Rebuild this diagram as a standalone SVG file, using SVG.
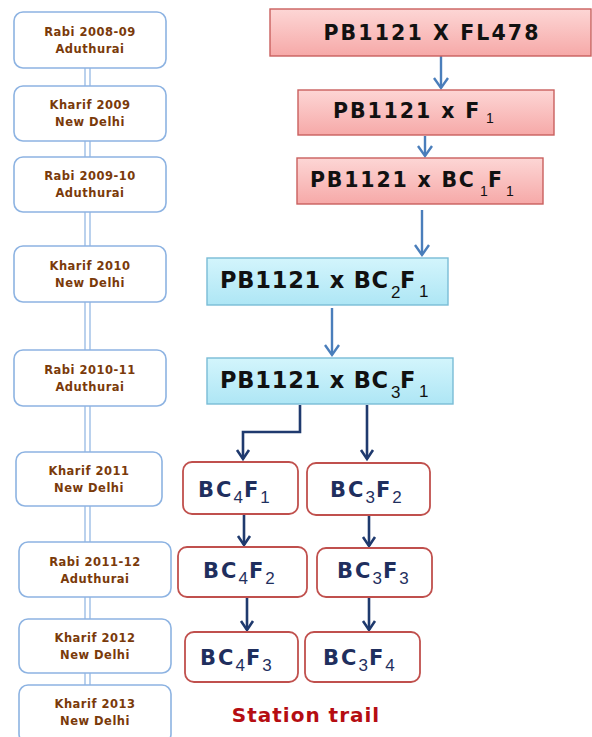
<svg xmlns="http://www.w3.org/2000/svg" width="592" height="737" viewBox="0 0 592 737">
<defs>
<linearGradient id="gRed" x1="0" y1="0" x2="0" y2="1">
<stop offset="0" stop-color="#fdd6d5"/>
<stop offset="1" stop-color="#f6a9a8"/>
</linearGradient>
<linearGradient id="gCyan" x1="0" y1="0" x2="0" y2="1">
<stop offset="0" stop-color="#d3f5fc"/>
<stop offset="1" stop-color="#aee6f5"/>
</linearGradient>
<marker id="aBlue" markerUnits="userSpaceOnUse" viewBox="-12 -10 14 20" refX="0" refY="0" markerWidth="14" markerHeight="20" orient="auto" overflow="visible">
<path d="M-10,-7 L0,0 L-10,7" fill="none" stroke="#4a7ebb" stroke-width="2.4" stroke-linejoin="miter"/>
</marker>
<marker id="aNavy" markerUnits="userSpaceOnUse" viewBox="-12 -10 14 20" refX="0" refY="0" markerWidth="14" markerHeight="20" orient="auto" overflow="visible">
<path d="M-9,-6 L0,0 L-9,6" fill="none" stroke="#1f3a6e" stroke-width="2.6" stroke-linejoin="miter"/>
</marker>
</defs>
<style>
.lbox{fill:#ffffff;stroke:#8db3e2;stroke-width:1.6}
.ltxt{font-family:"DejaVu Sans",sans-serif;font-weight:bold;font-size:11.5px;fill:#7a3a0a;text-anchor:middle;letter-spacing:0.5px}
.rbox{fill:url(#gRed);stroke:#c9605e;stroke-width:1.4}
.cbox{fill:url(#gCyan);stroke:#79bcd6;stroke-width:1.4}
.btxt{font-family:"DejaVu Sans",sans-serif;font-weight:bold;fill:#111111}
.sub{font-family:"Liberation Sans",sans-serif;font-weight:normal;fill:#111111}
.gbox{fill:#ffffff;stroke:#c0504d;stroke-width:1.8}
.gtxt{font-family:"DejaVu Sans",sans-serif;font-weight:bold;font-size:21px;fill:#1f2f5e;letter-spacing:2px}
.gsub{font-family:"Liberation Sans",sans-serif;font-weight:normal;font-size:17px;letter-spacing:1px}
.cb{fill:none;stroke:#4a7ebb;stroke-width:2.4;marker-end:url(#aBlue)}
.cn{fill:none;stroke:#1f3a6e;stroke-width:2.6;marker-end:url(#aNavy)}
</style>

<g id="connectors">
<rect x="85" y="60" width="5" height="632" fill="#ffffff" stroke="#8db3e2" stroke-width="1.2"/>
<path class="cb" d="M441,56 V88"/>
<path class="cb" d="M425,136 V156"/>
<path class="cb" d="M422,210 V255"/>
<path class="cb" d="M332,308 V355"/>
<path class="cn" d="M300,405 V432 H243 V459"/>
<path class="cn" d="M367,405 V459"/>
<path class="cn" d="M244,515 V545"/>
<path class="cn" d="M369,516 V546"/>
<path class="cn" d="M247,598 V630"/>
<path class="cn" d="M369,598 V630"/>
</g>

<g id="season1"><rect class="lbox" x="14" y="12" width="152" height="56" rx="9"/><text class="ltxt" x="90" y="36">Rabi 2008-09</text><text class="ltxt" x="90" y="53">Aduthurai</text></g>
<g id="season2"><rect class="lbox" x="14" y="86" width="152" height="55" rx="9"/><text class="ltxt" x="90" y="109">Kharif 2009</text><text class="ltxt" x="90" y="126">New Delhi</text></g>
<g id="season3"><rect class="lbox" x="14" y="157" width="152" height="55" rx="9"/><text class="ltxt" x="90" y="180">Rabi 2009-10</text><text class="ltxt" x="90" y="197">Aduthurai</text></g>
<g id="season4"><rect class="lbox" x="14" y="246" width="152" height="56" rx="9"/><text class="ltxt" x="90" y="270">Kharif 2010</text><text class="ltxt" x="90" y="287">New Delhi</text></g>
<g id="season5"><rect class="lbox" x="14" y="350" width="152" height="56" rx="9"/><text class="ltxt" x="90" y="374">Rabi 2010-11</text><text class="ltxt" x="90" y="391">Aduthurai</text></g>
<g id="season6"><rect class="lbox" x="16" y="452" width="146" height="54" rx="9"/><text class="ltxt" x="89" y="475">Kharif 2011</text><text class="ltxt" x="89" y="492">New Delhi</text></g>
<g id="season7"><rect class="lbox" x="19" y="542" width="152" height="55" rx="9"/><text class="ltxt" x="95" y="566">Rabi 2011-12</text><text class="ltxt" x="95" y="583">Aduthurai</text></g>
<g id="season8"><rect class="lbox" x="19" y="619" width="152" height="54" rx="9"/><text class="ltxt" x="95" y="642">Kharif 2012</text><text class="ltxt" x="95" y="659">New Delhi</text></g>
<g id="season9"><rect class="lbox" x="19" y="685" width="152" height="58" rx="9"/><text class="ltxt" x="95" y="708">Kharif 2013</text><text class="ltxt" x="95" y="725">New Delhi</text></g>

<g id="cross"><rect class="rbox" x="270" y="9" width="321" height="47"/><text class="btxt" x="432" y="40" font-size="20.5" text-anchor="middle" letter-spacing="2.1">PB1121 X FL478</text></g>
<g id="f1"><rect class="rbox" x="298" y="90" width="256" height="45"/><text class="btxt" x="333" y="118" font-size="20.5" letter-spacing="1.9">PB1121 x F</text><text class="sub" x="486" y="123" font-size="14">1</text></g>
<g id="bc1f1"><rect class="rbox" x="297" y="158" width="246" height="46"/><text class="btxt" x="310" y="187" font-size="20.5" letter-spacing="1.8">PB1121 x BC</text><text class="sub" x="480" y="196" font-size="14">1</text><text class="btxt" x="488" y="187" font-size="20.5">F</text><text class="sub" x="506" y="196" font-size="14">1</text></g>
<g id="bc2f1"><rect class="cbox" x="207" y="258" width="241" height="47"/><text class="btxt" x="220" y="288" font-size="22.5" letter-spacing="0.8">PB1121 x BC</text><text class="sub" x="391" y="298" font-size="17">2</text><text class="btxt" x="400" y="288" font-size="22.5">F</text><text class="sub" x="419" y="297" font-size="17">1</text></g>
<g id="bc3f1"><rect class="cbox" x="207" y="358" width="246" height="46"/><text class="btxt" x="220" y="388" font-size="22.5" letter-spacing="0.8">PB1121 x BC</text><text class="sub" x="391" y="398" font-size="17">3</text><text class="btxt" x="400" y="388" font-size="22.5">F</text><text class="sub" x="419" y="397" font-size="17">1</text></g>

<g id="bc4f1"><rect class="gbox" x="183" y="462" width="115" height="52" rx="9"/><text class="gtxt" x="198" y="497">BC<tspan class="gsub" dy="6">4</tspan><tspan dy="-6">F</tspan><tspan class="gsub" dy="6">1</tspan></text></g>
<g id="bc3f2"><rect class="gbox" x="307" y="463" width="123" height="52" rx="9"/><text class="gtxt" x="330" y="497">BC<tspan class="gsub" dy="6">3</tspan><tspan dy="-6">F</tspan><tspan class="gsub" dy="6">2</tspan></text></g>
<g id="bc4f2"><rect class="gbox" x="178" y="547" width="129" height="50" rx="9"/><text class="gtxt" x="203" y="578">BC<tspan class="gsub" dy="6">4</tspan><tspan dy="-6">F</tspan><tspan class="gsub" dy="6">2</tspan></text></g>
<g id="bc3f3"><rect class="gbox" x="317" y="548" width="115" height="49" rx="9"/><text class="gtxt" x="337" y="578">BC<tspan class="gsub" dy="6">3</tspan><tspan dy="-6">F</tspan><tspan class="gsub" dy="6">3</tspan></text></g>
<g id="bc4f3"><rect class="gbox" x="185" y="632" width="113" height="50" rx="9"/><text class="gtxt" x="200" y="665">BC<tspan class="gsub" dy="6">4</tspan><tspan dy="-6">F</tspan><tspan class="gsub" dy="6">3</tspan></text></g>
<g id="bc3f4"><rect class="gbox" x="305" y="632" width="115" height="50" rx="9"/><text class="gtxt" x="323" y="665">BC<tspan class="gsub" dy="6">3</tspan><tspan dy="-6">F</tspan><tspan class="gsub" dy="6">4</tspan></text></g>

<g id="caption"><text x="306" y="722" text-anchor="middle" font-family="DejaVu Sans, sans-serif" font-weight="bold" font-size="20" letter-spacing="1" fill="#b50d12">Station trail</text></g>
</svg>
